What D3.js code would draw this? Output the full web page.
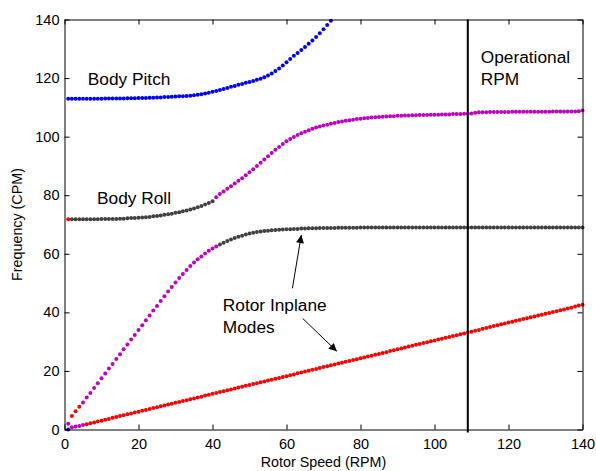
<!DOCTYPE html>
<html>
<head>
<meta charset="utf-8">
<script src="https://cdn.jsdelivr.net/npm/d3@7"></script>
<style>
  body { margin: 0; background: #fff; }
  svg { display: block; font-family: "Liberation Sans", Arial, sans-serif; }
</style>
</head>
<body>
<div id="chart"></div>
<script>
// axis ticks
const xTicks = [0, 20, 40, 60, 80, 100, 120, 140];
const yTicks = [0, 20, 40, 60, 80, 100, 120, 140];
const operationalRpm = 109;

// each segment: first rotor speed (RPM) and the frequency (CPM) at every 1 RPM after it
const pitchBlueStart = 1;
const pitchBlue = [
  112.9, 112.9, 112.9, 112.9, 112.9, 112.9, 112.9, 112.9, 112.9, 112.9,
  113.0, 113.0, 113.0, 113.0, 113.0, 113.0, 113.1, 113.1, 113.1, 113.2,
  113.2, 113.2, 113.3, 113.3, 113.4, 113.4, 113.5, 113.5, 113.6, 113.7,
  113.8, 113.8, 113.9, 114.0, 114.1, 114.3, 114.5, 114.7, 115.0, 115.3,
  115.6, 115.9, 116.3, 116.6, 117.0, 117.3, 117.7, 118.0, 118.4, 118.7,
  119.0, 119.4, 119.8, 120.3, 120.9, 121.6, 122.4, 123.3, 124.3, 125.4,
  126.5, 127.6, 128.6, 129.6, 130.6, 131.7, 132.8, 134.0, 135.3, 136.7,
  138.1, 139.6
];
const lowBlueStart = 1;
const lowBlue = [0.0];

const rollRedStart = 1;
const rollRed = [71.8];
const rollGrayStart = 2;
const rollGray = [
  71.8, 71.8, 71.8, 71.8, 71.8, 71.8, 71.8, 71.8, 71.9, 71.9,
  71.9, 71.9, 71.9, 72.0, 72.0, 72.1, 72.2, 72.2, 72.3, 72.4,
  72.5, 72.6, 72.8, 72.9, 73.1, 73.3, 73.5, 73.7, 74.0, 74.2,
  74.5, 74.8, 75.1, 75.5, 75.9, 76.3, 76.8, 77.3, 77.9
];
const rollMagentaStart = 41;
const rollMagenta = [
  79.3, 80.4, 81.3, 82.2, 83.1, 84.0, 84.9, 85.8, 86.8, 87.8,
  88.9, 90.0, 91.1, 92.2, 93.3, 94.4, 95.5, 96.5, 97.5, 98.4,
  99.2, 99.9, 100.6, 101.2, 101.7, 102.2, 102.7, 103.1, 103.5, 103.8,
  104.1, 104.4, 104.7, 105.0, 105.2, 105.4, 105.6, 105.8, 106.0, 106.1,
  106.3, 106.4, 106.5, 106.6, 106.7, 106.8, 106.9, 107.0, 107.0, 107.1,
  107.1, 107.2, 107.2, 107.3, 107.3, 107.4, 107.4, 107.4, 107.5, 107.5,
  107.5, 107.6, 107.6, 107.6, 107.7, 107.7, 107.7, 107.8, 107.8, 107.9,
  108.2, 108.3, 108.3, 108.3, 108.4, 108.4, 108.4, 108.4, 108.4, 108.4,
  108.5, 108.5, 108.5, 108.5, 108.5, 108.5, 108.5, 108.5, 108.5, 108.5,
  108.5, 108.6, 108.6, 108.6, 108.6, 108.6, 108.6, 108.6, 108.7, 108.9
];

const steepMagentaAStart = 1;
const steepMagentaA = [2.0];
const steepRedStart = 2;
const steepRed = [4.6, 6.2, 7.8];
const steepMagentaStart = 5;
const steepMagenta = [
  9.2, 10.9, 12.5, 14.2, 15.8, 17.5, 19.1, 20.8, 22.4, 24.1,
  25.7, 27.4, 29.0, 30.7, 32.3, 34.0, 35.6, 37.3, 38.9, 40.6,
  42.2, 43.9, 45.5, 47.1, 48.7, 50.2, 51.7, 53.1, 54.5, 55.8,
  57.0, 58.1, 59.1, 60.1, 61.0, 61.8, 62.5
];
const inplaneGrayStart = 42;
const inplaneGray = [
  63.2, 63.8, 64.4, 64.9, 65.4, 65.8, 66.2, 66.6, 66.9, 67.2,
  67.4, 67.6, 67.8, 67.9, 68.0, 68.1, 68.2, 68.3, 68.4, 68.4,
  68.5, 68.5, 68.6, 68.6, 68.7, 68.7, 68.7, 68.8, 68.8, 68.8,
  68.8, 68.8, 68.9, 68.9, 68.9, 68.9, 68.9, 68.9, 69.0, 69.0,
  69.0, 69.0, 69.0, 69.0, 69.0, 69.0, 69.0, 69.0, 69.0, 69.0,
  69.0, 69.0, 69.0, 69.0, 69.0, 69.0, 69.0, 69.0, 69.0, 69.0,
  69.0, 69.0, 69.0, 69.0, 69.0, 69.0, 69.0, 69.0, 69.0, 69.0,
  69.0, 69.0, 69.0, 69.0, 69.0, 69.0, 69.0, 69.0, 69.0, 69.0,
  69.0, 69.0, 69.0, 69.0, 69.0, 69.0, 69.0, 69.0, 69.0, 69.0,
  69.0, 69.0, 69.0, 69.0, 69.0, 69.0, 69.0, 69.0, 69.0
];

const lowMagentaStart = 2;
const lowMagenta = [0.8, 1.0, 1.2, 1.5];
const lowRedStart = 6;
const lowRed = [
  1.8, 2.1, 2.4, 2.7, 3.0, 3.3, 3.6, 4.0, 4.3, 4.6,
  4.9, 5.2, 5.5, 5.8, 6.1, 6.4, 6.7, 7.0, 7.3, 7.6,
  7.9, 8.2, 8.5, 8.8, 9.1, 9.4, 9.7, 10.0, 10.3, 10.6,
  10.9, 11.2, 11.6, 11.9, 12.2, 12.5, 12.8, 13.1, 13.4, 13.7,
  14.0, 14.3, 14.6, 14.9, 15.2, 15.5, 15.8, 16.1, 16.4, 16.7,
  17.0, 17.3, 17.6, 17.9, 18.2, 18.5, 18.8, 19.2, 19.5, 19.8,
  20.1, 20.4, 20.7, 21.0, 21.3, 21.6, 21.9, 22.2, 22.5, 22.8,
  23.1, 23.4, 23.7, 24.0, 24.3, 24.6, 24.9, 25.2, 25.5, 25.8,
  26.1, 26.4, 26.8, 27.1, 27.4, 27.7, 28.0, 28.3, 28.6, 28.9,
  29.2, 29.5, 29.8, 30.1, 30.4, 30.7, 31.0, 31.3, 31.6, 31.9,
  32.2, 32.5, 32.8, 33.1, 33.4, 33.7, 34.0, 34.4, 34.7, 35.0,
  35.3, 35.6, 35.9, 36.2, 36.5, 36.8, 37.1, 37.4, 37.7, 38.0,
  38.3, 38.6, 38.9, 39.2, 39.5, 39.8, 40.1, 40.4, 40.7, 41.0,
  41.3, 41.6, 42.0, 42.3, 42.6
];

const blue = "#0000ff", magenta = "#bf00bf", gray = "#404040", red = "#ff0000";

const segments = [
  { start: inplaneGrayStart, values: inplaneGray, color: gray },
  { start: rollGrayStart, values: rollGray, color: gray },
  { start: lowRedStart, values: lowRed, color: red },
  { start: steepRedStart, values: steepRed, color: red },
  { start: rollRedStart, values: rollRed, color: red },
  { start: steepMagentaStart, values: steepMagenta, color: magenta },
  { start: steepMagentaAStart, values: steepMagentaA, color: magenta },
  { start: rollMagentaStart, values: rollMagenta, color: magenta },
  { start: lowMagentaStart, values: lowMagenta, color: magenta },
  { start: pitchBlueStart, values: pitchBlue, color: blue },
  { start: lowBlueStart, values: lowBlue, color: blue },
];

const points = segments.flatMap((s) =>
  s.values.map((v, i) => ({ rpm: s.start + i, cpm: v, color: s.color }))
);

const width = 596, height = 471;
const svg = d3.select("#chart").append("svg")
  .attr("width", width)
  .attr("height", height);

const x = d3.scaleLinear().domain([0, 140]).range([64.5, 582.5]);
const y = d3.scaleLinear().domain([0, 140]).range([429.5, 19.5]);

// dots
svg.append("g")
  .selectAll("circle")
  .data(points)
  .enter()
  .append("circle")
  .attr("cx", (d) => x(d.rpm))
  .attr("cy", (d) => y(d.cpm))
  .attr("r", 2)
  .attr("fill", (d) => d.color);

// operational RPM line
svg.append("line")
  .attr("x1", x(operationalRpm))
  .attr("x2", x(operationalRpm))
  .attr("y1", y(140))
  .attr("y2", y(0) + 3)
  .attr("stroke", "#000")
  .attr("stroke-width", 2);

// axes with inward ticks on all four sides
function styleAxis(g) {
  g.selectAll("path").attr("stroke", "#000").attr("stroke-width", 1);
  g.selectAll("line").attr("stroke", "#000");
  g.selectAll("text").attr("fill", "#000").style("font-size", "14.5px");
}

svg.append("g")
  .attr("transform", `translate(0,${y(0)})`)
  .call(d3.axisBottom(x).tickValues(xTicks).tickSizeInner(-5).tickSizeOuter(0).tickPadding(9))
  .call(styleAxis);

svg.append("g")
  .attr("transform", `translate(${x(0)},0)`)
  .call(d3.axisLeft(y).tickValues(yTicks).tickSizeInner(-5).tickSizeOuter(0).tickPadding(5))
  .call(styleAxis);

svg.append("g")
  .attr("transform", `translate(0,${y(140)})`)
  .call(d3.axisTop(x).tickValues(xTicks).tickSizeInner(-5).tickSizeOuter(0).tickFormat(""))
  .call(styleAxis);

svg.append("g")
  .attr("transform", `translate(${x(140)},0)`)
  .call(d3.axisRight(y).tickValues(yTicks).tickSizeInner(-5).tickSizeOuter(0).tickFormat(""))
  .call(styleAxis);

// axis titles
svg.append("text")
  .attr("x", (x(0) + x(140)) / 2)
  .attr("y", 466.5)
  .attr("text-anchor", "middle")
  .style("font-size", "14.3px")
  .text("Rotor Speed (RPM)");

svg.append("text")
  .attr("transform", `translate(22,${(y(0) + y(140)) / 2}) rotate(-90)`)
  .attr("text-anchor", "middle")
  .style("font-size", "14.3px")
  .text("Frequency (CPM)");

// annotations
const labels = [
  { text: "Body Pitch", rpm: 6.3, cpm: 117.5 },
  { text: "Body Roll", rpm: 8.8, cpm: 77.0 },
  { text: "Operational", rpm: 112.5, cpm: 125.2 },
  { text: "RPM", rpm: 112.5, cpm: 117.8 },
  { text: "Rotor Inplane", rpm: 42.8, cpm: 40.5 },
  { text: "Modes", rpm: 42.8, cpm: 33.0 },
];

svg.append("g")
  .selectAll("text")
  .data(labels)
  .enter()
  .append("text")
  .attr("x", (d) => x(d.rpm))
  .attr("y", (d) => y(d.cpm))
  .style("font-size", "17.3px")
  .attr("fill", "#000")
  .text((d) => d.text);

const arrows = [
  { from: [61.6, 48.2], to: [64.0, 66.4] },
  { from: [64.4, 37.9], to: [73.6, 26.7] },
];

svg.append("defs").append("marker")
  .attr("id", "head")
  .attr("viewBox", "0 0 10 10")
  .attr("refX", 10)
  .attr("refY", 5)
  .attr("markerWidth", 11)
  .attr("markerHeight", 8)
  .attr("markerUnits", "userSpaceOnUse")
  .attr("orient", "auto")
  .append("path")
  .attr("d", "M0,0 L10,5 L0,10 Z")
  .attr("fill", "#000");

svg.append("g")
  .selectAll("line")
  .data(arrows)
  .enter()
  .append("line")
  .attr("x1", (d) => x(d.from[0]))
  .attr("y1", (d) => y(d.from[1]))
  .attr("x2", (d) => x(d.to[0]))
  .attr("y2", (d) => y(d.to[1]))
  .attr("stroke", "#000")
  .attr("stroke-width", 1)
  .attr("marker-end", "url(#head)");
</script>
</body>
</html>
